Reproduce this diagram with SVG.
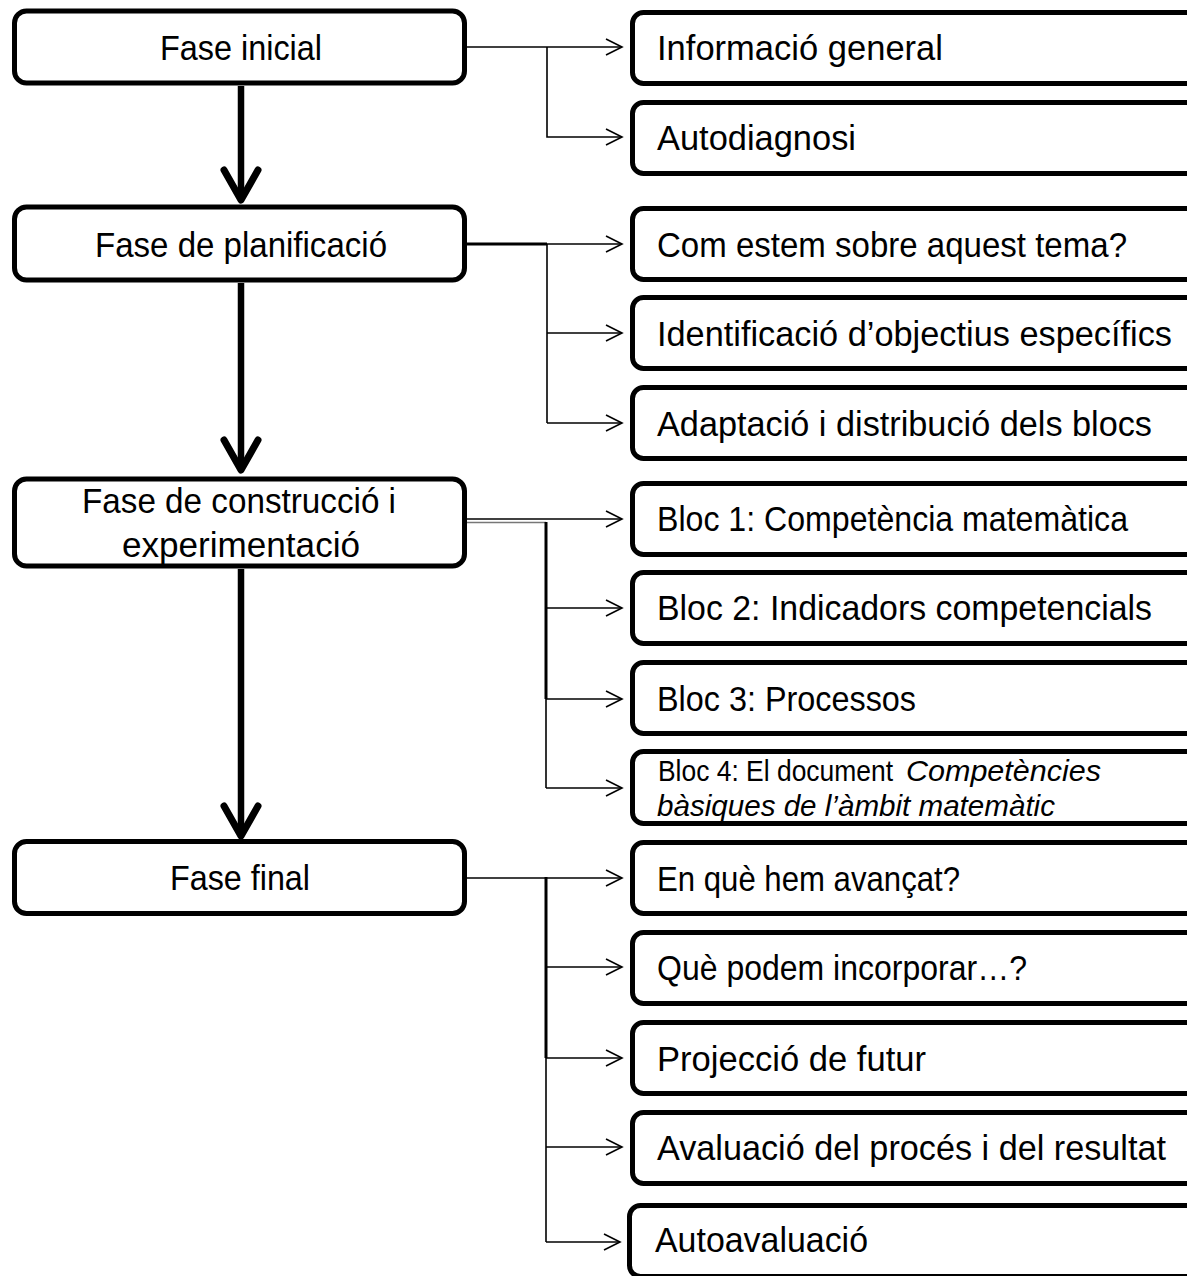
<svg xmlns="http://www.w3.org/2000/svg" width="1187" height="1276" viewBox="0 0 1187 1276">
<style>
.box{fill:#fff;stroke:#000;stroke-width:5}
.t{font-family:"Liberation Sans Narrow","Liberation Sans",Arial,sans-serif;font-size:35px;fill:#000}
.s{font-family:"Liberation Sans Narrow","Liberation Sans",Arial,sans-serif;font-size:29px;fill:#000}
.i{font-style:italic}
.thin{fill:none;stroke:#000;stroke-width:1.6}
.mid{fill:none;stroke:#000;stroke-width:3}
.gray{fill:none;stroke:#777;stroke-width:1.5}
.thick{fill:none;stroke:#000;stroke-width:6.5}
.head{fill:none;stroke:#000;stroke-width:7;stroke-linecap:round;stroke-linejoin:round}
</style>
<defs>
<marker id="oa" markerUnits="userSpaceOnUse" markerWidth="20" markerHeight="20" viewBox="-18 -10 20 20" refX="0" refY="0" orient="auto">
<path d="M-16,-8 L0,0 L-16,8" fill="none" stroke="#000" stroke-width="1.6"/>
</marker>
</defs>
<rect width="1187" height="1276" fill="#fff"/>

<g id="connectors">
<line class="thick" x1="241" y1="86" x2="241" y2="198"/>
<path class="head" d="M224,170 L241,200 L258,170"/>
<line class="thick" x1="241" y1="283" x2="241" y2="468"/>
<path class="head" d="M224,440 L241,470 L258,440"/>
<line class="thick" x1="241" y1="569" x2="241" y2="833"/>
<path class="head" d="M224,806 L241,836 L258,806"/>

<line class="thin" x1="466" y1="47" x2="622" y2="47" marker-end="url(#oa)"/>
<polyline class="thin" points="547,47 547,137 622,137" marker-end="url(#oa)"/>

<line class="mid" x1="466" y1="244" x2="547" y2="244"/>
<line class="thin" x1="547" y1="244" x2="622" y2="244" marker-end="url(#oa)"/>
<line class="thin" x1="547" y1="244" x2="547" y2="423"/>
<line class="thin" x1="547" y1="333" x2="622" y2="333" marker-end="url(#oa)"/>
<line class="thin" x1="547" y1="423" x2="622" y2="423" marker-end="url(#oa)"/>

<line class="thin" x1="466" y1="519" x2="622" y2="519" marker-end="url(#oa)"/>
<line class="gray" x1="466" y1="522.5" x2="546" y2="522.5"/>
<line class="mid" x1="546" y1="522" x2="546" y2="699"/>
<line class="thin" x1="546" y1="699" x2="546" y2="788"/>
<line class="thin" x1="546" y1="608" x2="622" y2="608" marker-end="url(#oa)"/>
<line class="thin" x1="546" y1="699" x2="622" y2="699" marker-end="url(#oa)"/>
<line class="thin" x1="546" y1="788" x2="622" y2="788" marker-end="url(#oa)"/>

<line class="thin" x1="466" y1="878" x2="622" y2="878" marker-end="url(#oa)"/>
<line class="mid" x1="546" y1="877" x2="546" y2="1058"/>
<line class="thin" x1="546" y1="1058" x2="546" y2="1242"/>
<line class="thin" x1="546" y1="967" x2="622" y2="967" marker-end="url(#oa)"/>
<line class="thin" x1="546" y1="1058" x2="622" y2="1058" marker-end="url(#oa)"/>
<line class="thin" x1="546" y1="1147" x2="622" y2="1147" marker-end="url(#oa)"/>
<line class="thin" x1="546" y1="1242" x2="620" y2="1242" marker-end="url(#oa)"/>
</g>

<g id="fase-inicial">
<rect class="box" x="14.5" y="11" width="450" height="72" rx="12"/>
<text class="t" x="241" y="60" text-anchor="middle" textLength="162" lengthAdjust="spacingAndGlyphs">Fase inicial</text>
</g>
<g id="fase-planificacio">
<rect class="box" x="14.5" y="207" width="450" height="73" rx="12"/>
<text class="t" x="241" y="257" text-anchor="middle" textLength="292" lengthAdjust="spacingAndGlyphs">Fase de planificació</text>
</g>
<g id="fase-construccio">
<rect class="box" x="14.5" y="479" width="450" height="87" rx="12"/>
<text class="t" x="239" y="513" text-anchor="middle" textLength="314" lengthAdjust="spacingAndGlyphs">Fase de construcció i</text>
<text class="t" x="241" y="557" text-anchor="middle" textLength="238" lengthAdjust="spacingAndGlyphs">experimentació</text>
</g>
<g id="fase-final">
<rect class="box" x="14.5" y="841.5" width="450" height="72" rx="12"/>
<text class="t" x="240" y="890" text-anchor="middle" textLength="140" lengthAdjust="spacingAndGlyphs">Fase final</text>
</g>

<g id="informacio-general">
<rect class="box" x="632.5" y="12.5" width="620" height="71" rx="11"/>
<text class="t" x="657" y="60" textLength="286" lengthAdjust="spacingAndGlyphs">Informació general</text>
</g>
<g id="autodiagnosi">
<rect class="box" x="632.5" y="102.5" width="620" height="71" rx="11"/>
<text class="t" x="657" y="150" textLength="199" lengthAdjust="spacingAndGlyphs">Autodiagnosi</text>
</g>
<g id="com-estem">
<rect class="box" x="632.5" y="208.5" width="620" height="71" rx="11"/>
<text class="t" x="657" y="257" textLength="470" lengthAdjust="spacingAndGlyphs">Com estem sobre aquest tema?</text>
</g>
<g id="identificacio">
<rect class="box" x="632.5" y="297.5" width="620" height="71" rx="11"/>
<text class="t" x="657" y="346" textLength="515" lengthAdjust="spacingAndGlyphs">Identificació d’objectius específics</text>
</g>
<g id="adaptacio">
<rect class="box" x="632.5" y="387.5" width="620" height="71" rx="11"/>
<text class="t" x="657" y="436" textLength="495" lengthAdjust="spacingAndGlyphs">Adaptació i distribució dels blocs</text>
</g>
<g id="bloc-1">
<rect class="box" x="632.5" y="483.5" width="620" height="71" rx="11"/>
<text class="t" x="657" y="531" textLength="471" lengthAdjust="spacingAndGlyphs">Bloc 1: Competència matemàtica</text>
</g>
<g id="bloc-2">
<rect class="box" x="632.5" y="572.5" width="620" height="71" rx="11"/>
<text class="t" x="657" y="620" textLength="495" lengthAdjust="spacingAndGlyphs">Bloc 2: Indicadors competencials</text>
</g>
<g id="bloc-3">
<rect class="box" x="632.5" y="662.5" width="620" height="71" rx="11"/>
<text class="t" x="657" y="711" textLength="259" lengthAdjust="spacingAndGlyphs">Bloc 3: Processos</text>
</g>
<g id="bloc-4">
<rect class="box" x="632.5" y="751.5" width="620" height="72" rx="11"/>
<text class="s" x="658" y="781" textLength="235" lengthAdjust="spacingAndGlyphs">Bloc 4: El document</text>
<text class="s i" x="906" y="781" textLength="195" lengthAdjust="spacingAndGlyphs">Competències</text>
<text class="s i" x="657" y="816" textLength="398" lengthAdjust="spacingAndGlyphs">bàsiques de l’àmbit matemàtic</text>
</g>
<g id="en-que">
<rect class="box" x="632.5" y="842.5" width="620" height="71" rx="11"/>
<text class="t" x="657" y="891" textLength="303" lengthAdjust="spacingAndGlyphs">En què hem avançat?</text>
</g>
<g id="que-podem">
<rect class="box" x="632.5" y="932.5" width="620" height="71" rx="11"/>
<text class="t" x="657" y="980" textLength="370" lengthAdjust="spacingAndGlyphs">Què podem incorporar…?</text>
</g>
<g id="projeccio">
<rect class="box" x="632.5" y="1022.5" width="620" height="71" rx="11"/>
<text class="t" x="657" y="1071" textLength="269" lengthAdjust="spacingAndGlyphs">Projecció de futur</text>
</g>
<g id="avaluacio">
<rect class="box" x="632.5" y="1112.5" width="620" height="71" rx="11"/>
<text class="t" x="657" y="1160" textLength="509" lengthAdjust="spacingAndGlyphs">Avaluació del procés i del resultat</text>
</g>
<g id="autoavaluacio">
<rect class="box" x="629.5" y="1205.5" width="620" height="71" rx="11"/>
<text class="t" x="655" y="1252" textLength="213" lengthAdjust="spacingAndGlyphs">Autoavaluació</text>
</g>
</svg>
